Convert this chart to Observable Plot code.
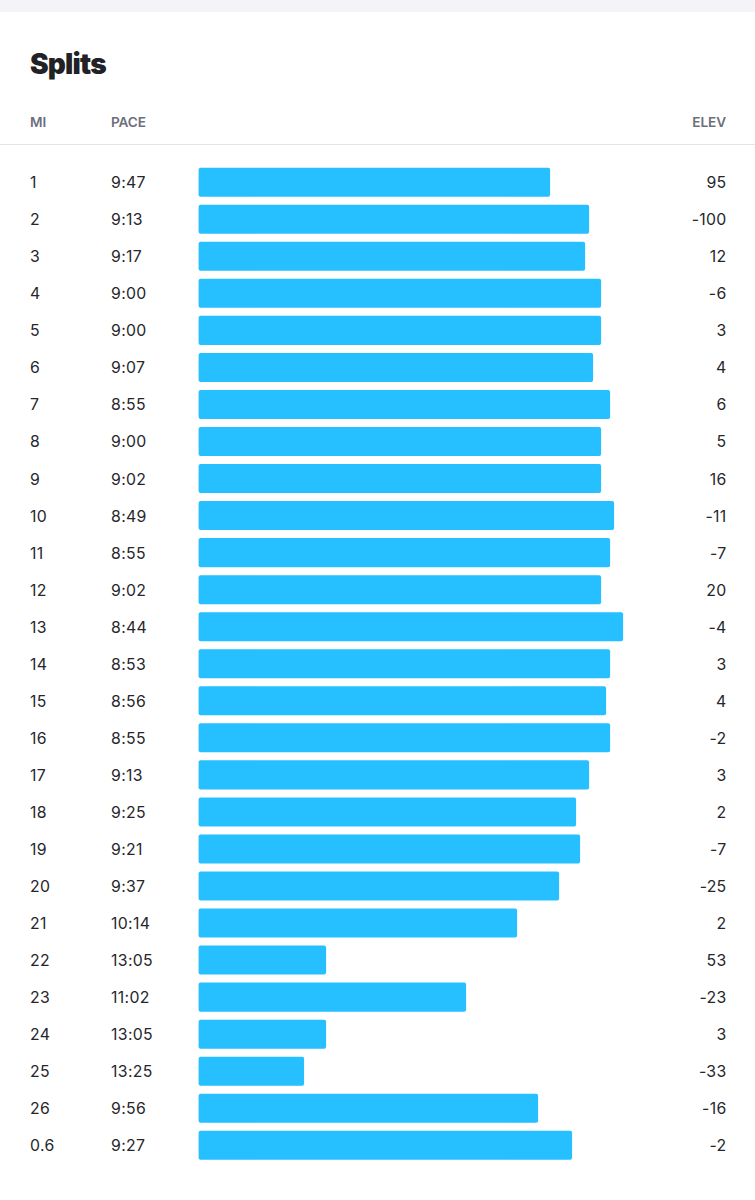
<!DOCTYPE html>
<html><head><meta charset="utf-8">
<script src="https://cdn.jsdelivr.net/npm/d3@7"></script>
<script src="https://cdn.jsdelivr.net/npm/@observablehq/plot@0.6"></script>
<style>
html,body{margin:0;padding:0;background:#fff;font-family:Inter,"Liberation Sans",sans-serif;}
#band{height:11.5px;background:#f3f3f8;}
#title{position:absolute;left:30px;top:46px;font-size:28px;line-height:36px;font-weight:900;color:#212126;letter-spacing:-0.8px;}
#head{position:absolute;left:0;top:100px;width:755px;height:44px;border-bottom:1px solid #e3e3e7;font-size:13.6px;font-weight:600;color:#6d6f7c;line-height:44px;letter-spacing:-0.1px;}
#head span{position:absolute;top:0;}
#chart{position:absolute;left:0;top:145px;}
svg{display:block;}
svg text{letter-spacing:0.3px;}
</style></head><body>
<div id="band"></div>
<div id="title">Splits</div>
<div id="head"><span style="left:30px">MI</span><span style="left:111px">PACE</span><span style="right:29px">ELEV</span></div>
<div id="chart"></div>
<script>
const miles = ["1","2","3","4","5","6","7","8","9","10","11","12","13","14","15","16","17","18","19","20","21","22","23","24","25","26","0.6"];
const paces = ["9:47","9:13","9:17","9:00","9:00","9:07","8:55","9:00","9:02","8:49","8:55","9:02","8:44","8:53","8:56","8:55","9:13","9:25","9:21","9:37","10:14","13:05","11:02","13:05","13:25","9:56","9:27"];
const barLengths = [351.5,390.5,386.5,402.5,402.5,394.5,411.5,402.5,402.5,415.5,411.5,402.5,424.5,411.5,407.5,411.5,390.5,377.5,381.5,360.5,318.5,127.5,267.5,127.5,105.5,339.5,373.5];
const elevs = ["95","-100","12","-6","3","4","6","5","16","-11","-7","20","-4","3","4","-2","3","2","-7","-25","2","53","-23","3","-33","-16","-2"];
const rows = miles.map((mile,i)=>({mile,pace:paces[i],len:barLengths[i],elev:elevs[i]}));
const textStyle = {fontSize:15.8, fill:"#26262b", fontFamily:"Inter, sans-serif", dy:0.4};
const chart = Plot.plot({
  width:755, height:1055,
  marginLeft:198.6, marginRight:0, marginTop:14.7, marginBottom:32.2,
  x:{domain:[0,556.4], axis:null},
  y:{domain:miles, type:"band", padding:0.216, round:false, axis:null},
  style:{background:"#fff"},
  marks:[
    Plot.barX(rows,{x1:0,x2:"len",y:"mile",fill:"#26bfff",r:2}),
    Plot.text(rows,{text:"mile",y:"mile",frameAnchor:"left",textAnchor:"start",dx:-169,...textStyle}),
    Plot.text(rows,{text:"pace",y:"mile",frameAnchor:"left",textAnchor:"start",dx:-88,...textStyle}),
    Plot.text(rows,{text:"elev",y:"mile",frameAnchor:"right",textAnchor:"end",dx:-29,...textStyle})
  ]
});
document.getElementById("chart").append(chart);
</script>
</body></html>
